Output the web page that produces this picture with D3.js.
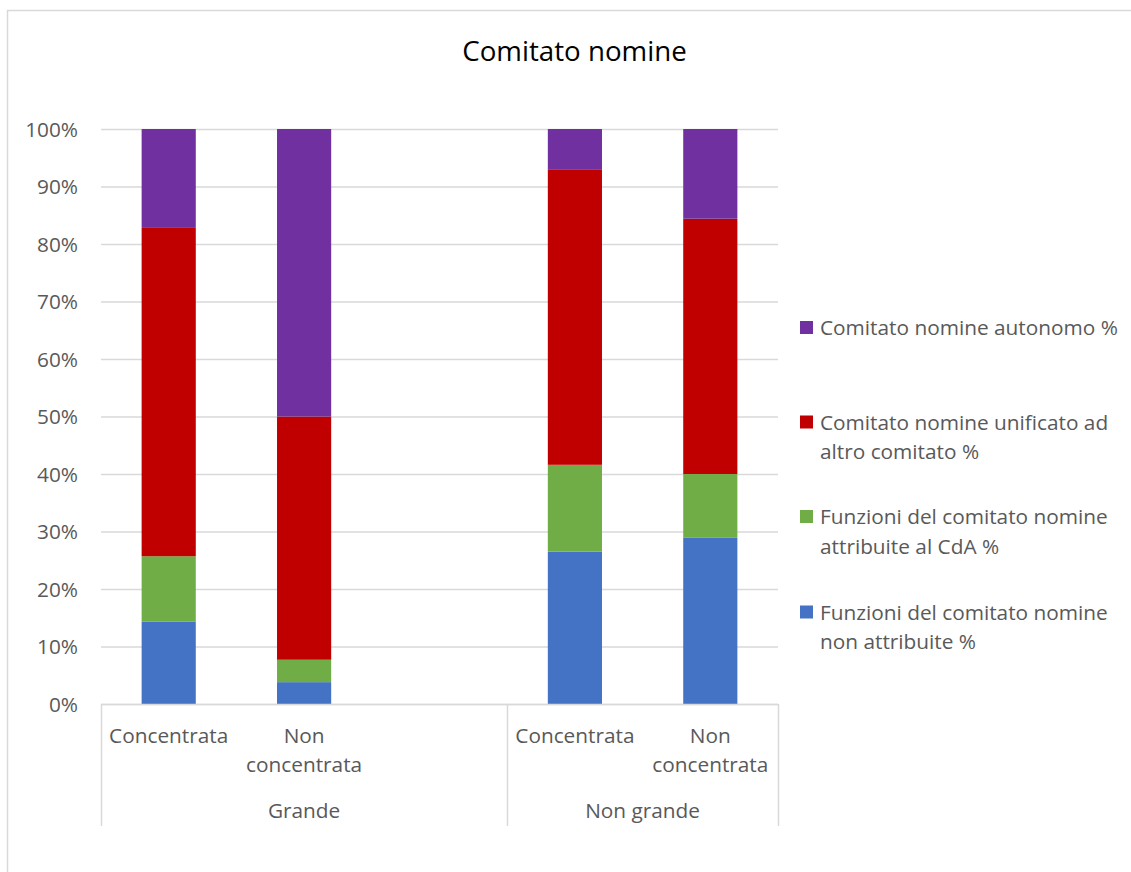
<!DOCTYPE html>
<html>
<head>
<meta charset="utf-8">
<script src="https://cdn.jsdelivr.net/npm/d3@7"></script>
<style>
  html, body { margin: 0; padding: 0; background: #ffffff; }
  svg { display: block; }
  text { font-family: "Open Sans", "Noto Sans", sans-serif; }
</style>
</head>
<body>
<svg id="chart" width="1131" height="872"></svg>
<script>
// ---- data ----
const title = "Comitato nomine";
const slotLabels = [["Concentrata"], ["Non", "concentrata"], [], ["Concentrata"], ["Non", "concentrata"]];
const slotGroups = ["Grande", "Grande", "Grande", "Non grande", "Non grande"];
const groupNames = ["Grande", "Non grande"];
const seriesNames = [
  "Funzioni del comitato nomine non attribuite %",
  "Funzioni del comitato nomine attribuite al CdA %",
  "Comitato nomine unificato ad altro comitato %",
  "Comitato nomine autonomo %"
];
const nonAttribuite = [14.3, 3.8, null, 26.5, 28.9];
const attribuiteCdA = [11.4, 3.9, null, 15.1, 11.1];
const unificato = [57.1, 42.3, null, 51.4, 44.4];
const autonomo = [17.2, 50.0, null, 7.0, 15.6];
const yTicks = [0, 10, 20, 30, 40, 50, 60, 70, 80, 90, 100];
const legendLines = [
  ["Comitato nomine autonomo %"],
  ["Comitato nomine unificato ad", "altro comitato %"],
  ["Funzioni del comitato nomine", "attribuite al CdA %"],
  ["Funzioni del comitato nomine", "non attribuite %"]
];

// ---- styles ----
const colors = ["#4472C4", "#70AD47", "#C00000", "#7030A0"];
const legendColors = ["#7030A0", "#C00000", "#70AD47", "#4472C4"];
const gridColor = "#d9d9d9";
const textColor = "#595959";
const fs = 20.8;

const svg = d3.select("#chart");

// chart frame
svg.append("rect")
  .attr("x", 7.5).attr("y", 10.5)
  .attr("width", 1300).attr("height", 1000)
  .attr("fill", "#fff").attr("stroke", gridColor).attr("stroke-width", 1.5);

// title
svg.append("text")
  .attr("x", 574.5).attr("y", 61)
  .attr("text-anchor", "middle")
  .attr("font-size", 27.7)
  .attr("fill", "#000")
  .text(title);

const plot = { left: 101, right: 778, top: 129, bottom: 704 };

const x = d3.scaleBand()
  .domain(d3.range(slotLabels.length))
  .range([plot.left, plot.right])
  .paddingInner(0.6).paddingOuter(0.3);

const y = d3.scaleLinear().domain([0, 100]).range([plot.bottom, plot.top]);

// gridlines
svg.append("g").selectAll("line")
  .data(yTicks)
  .join("line")
  .attr("x1", plot.left).attr("x2", plot.right)
  .attr("y1", d => y(d) + 0.5).attr("y2", d => y(d) + 0.5)
  .attr("stroke", gridColor).attr("stroke-width", 1.5);

// y tick labels
const yAxis = d3.axisLeft(y).tickValues(yTicks).tickFormat(d => d + "%").tickSize(0).tickPadding(23);
const yg = svg.append("g").attr("transform", `translate(${plot.left},0.5)`).call(yAxis);
yg.select(".domain").remove();
yg.selectAll("text").attr("font-size", fs).attr("fill", textColor)
  .attr("font-family", '"Open Sans", "Noto Sans", sans-serif');

// stacked bars
const rows = slotLabels.map((_, i) => ({
  i,
  s0: nonAttribuite[i], s1: attribuiteCdA[i], s2: unificato[i], s3: autonomo[i]
})).filter(d => d.s0 !== null);
const stack = d3.stack().keys(["s0", "s1", "s2", "s3"]);
const stacked = stack(rows);

svg.append("g").selectAll("g")
  .data(stacked)
  .join("g")
  .attr("fill", (d, k) => colors[k])
  .selectAll("rect")
  .data(d => d)
  .join("rect")
  .attr("x", d => x(d.data.i))
  .attr("width", x.bandwidth())
  .attr("y", d => y(d[1]))
  .attr("height", d => y(d[0]) - y(d[1]));

// category axis line
svg.append("line")
  .attr("x1", plot.left).attr("x2", plot.right)
  .attr("y1", plot.bottom + 0.5).attr("y2", plot.bottom + 0.5)
  .attr("stroke", gridColor).attr("stroke-width", 1.5);

// category labels
const catG = svg.append("g");
slotLabels.forEach((lines, i) => {
  const t = catG.append("text")
    .attr("x", x(i) + x.bandwidth() / 2)
    .attr("y", 743)
    .attr("text-anchor", "middle")
    .attr("font-size", fs)
    .attr("fill", textColor);
  lines.forEach((ln, j) => {
    t.append("tspan").attr("x", x(i) + x.bandwidth() / 2).attr("dy", j === 0 ? 0 : 28.5).text(ln);
  });
});

// group separators and labels
const step = x.step();
const groupInfo = groupNames.map(g => {
  const idx = slotGroups.map((s, i) => s === g ? i : -1).filter(i => i >= 0);
  const start = plot.left + step * d3.min(idx);
  const end = plot.left + step * (d3.max(idx) + 1);
  return { g, start, end };
});
const sepX = [plot.left].concat(groupInfo.map(d => d.end));
svg.append("g").selectAll("line")
  .data(sepX)
  .join("line")
  .attr("x1", d => Math.round(d) + 0.5).attr("x2", d => Math.round(d) + 0.5)
  .attr("y1", plot.bottom).attr("y2", 826)
  .attr("stroke", gridColor).attr("stroke-width", 1.5);

svg.append("g").selectAll("text")
  .data(groupInfo)
  .join("text")
  .attr("x", d => (d.start + d.end) / 2)
  .attr("y", 818)
  .attr("text-anchor", "middle")
  .attr("font-size", fs)
  .attr("fill", textColor)
  .text(d => d.g);

// legend
const legendTop = [335, 429.5, 524, 619.5];
const lg = svg.append("g");
legendLines.forEach((lines, k) => {
  lg.append("rect")
    .attr("x", 800).attr("y", legendTop[k] - 14)
    .attr("width", 13).attr("height", 13)
    .attr("fill", legendColors[k]);
  const t = lg.append("text")
    .attr("x", 820).attr("y", legendTop[k])
    .attr("font-size", fs)
    .attr("fill", textColor);
  lines.forEach((ln, j) => {
    t.append("tspan").attr("x", 820).attr("dy", j === 0 ? 0 : 29.5).text(ln);
  });
});
</script>
</body>
</html>
